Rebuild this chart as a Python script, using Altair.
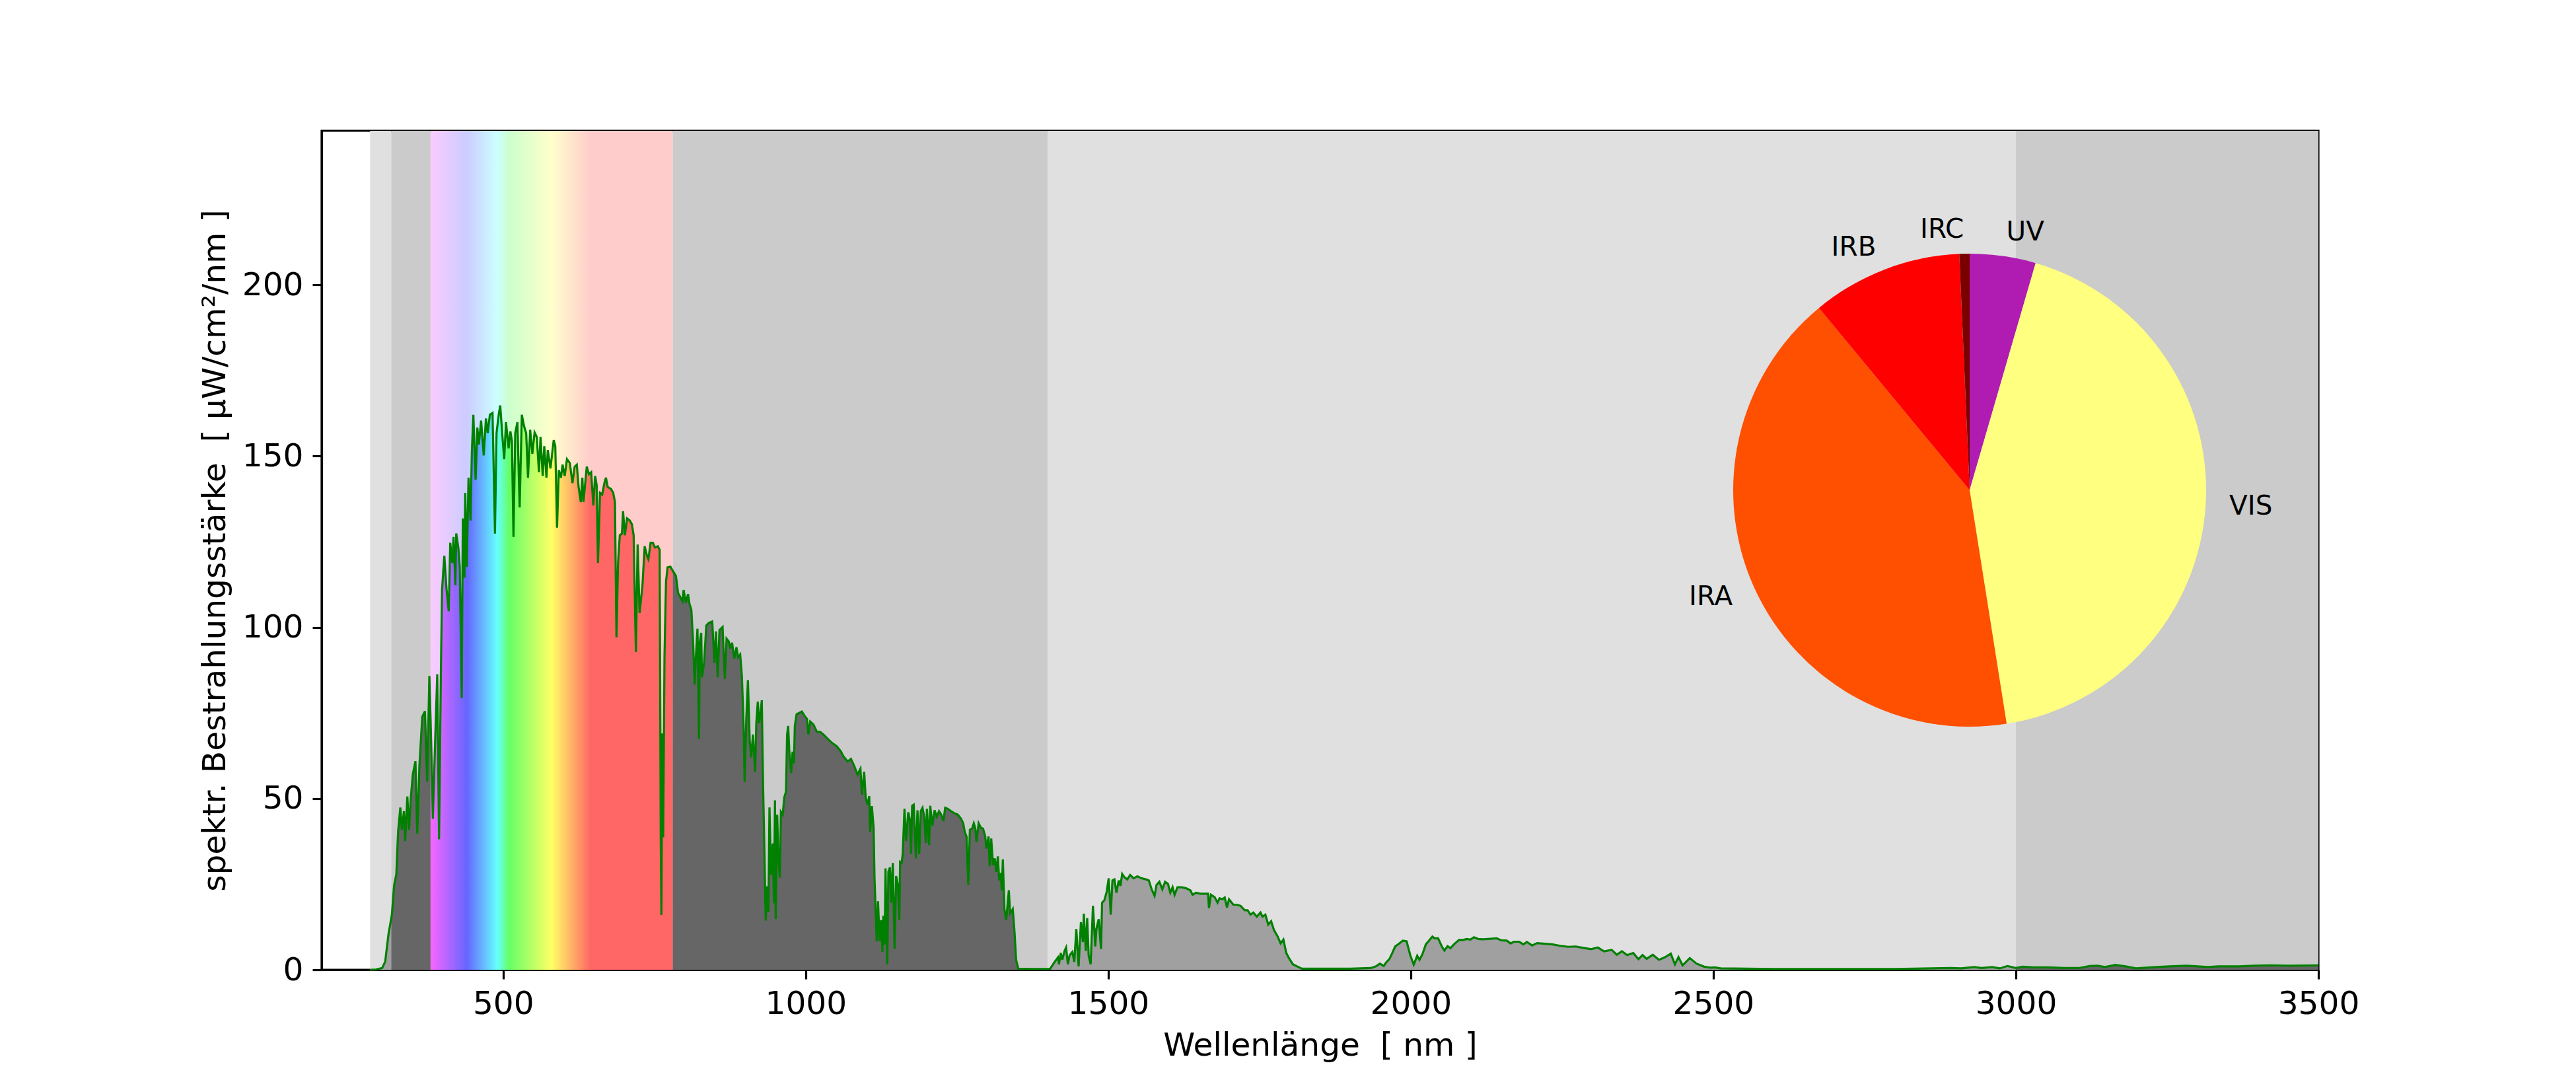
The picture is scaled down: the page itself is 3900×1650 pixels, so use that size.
import math
import altair as alt
import pandas as pd

# ---------------- data ----------------
WAVELENGTH = [
    280, 290, 300, 305, 310.6, 315, 316, 319.7, 323.4, 326.3, 330, 332.5, 336, 338, 341.6, 344.5, 347,
    350.7, 355, 358, 361.6, 366.3, 370.7, 374.3, 378, 380, 381, 383.8, 387, 391, 394, 397, 399, 402.7,
    406.3, 410, 412.5, 416, 418, 421, 422.4, 426, 428.2, 431.5, 433.3, 436, 437.3, 439.8, 442.7, 446,
    448.2, 450.7, 454.4, 457.3, 459.8, 463.5, 467.8, 471.5, 474.4, 478, 482.4, 486.4, 489, 492.6, 495.1,
    498.8, 501.7, 504.6, 509, 511.9, 514.4, 517, 519.9, 523.5, 527.2, 530.8, 534.4, 538, 541, 544.6,
    548.2, 551.9, 555.5, 559.1, 561.7, 565.3, 567.9, 571.5, 573.7, 578.1, 583.5, 586.1, 589, 591.9,
    595.5, 598.1, 601.7, 605.4, 610.1, 614.5, 618.1, 621.7, 624.6, 628.3, 630.8, 632.7, 638.1, 641.7,
    645.4, 649, 651.9, 654.5, 656.7, 660, 663.6, 667.2, 669.8, 672.7, 678.1, 681.8, 684.7, 687.2,
    689.8, 692.7, 696.3, 698.1, 701.1, 704.7, 709.1, 712.7, 715.6, 719.3, 722.2, 725.4, 728, 730.2,
    733.8, 737.5, 740, 743.6, 747.3, 750.9, 755.6, 758.6, 760.4, 761.5, 762.9, 764.4, 766.6, 769.1,
    771.7, 776.4, 780, 785.5, 789.1, 792.8, 796.4, 798.2, 801.9, 805.5, 808, 811, 813.9, 816.4, 818.2,
    821.1, 823.7, 824.8, 827.3, 828.4, 832, 835.7, 840, 845.5, 849.2, 851.7, 854.6, 857.5, 862.6,
    866.3, 869.2, 872.8, 875.7, 878.3, 881.9, 885.5, 888.1, 891.7, 894.6, 897.5, 899, 901.9, 904.5,
    907.4, 909.9, 912.8, 916.5, 918.3, 920.8, 923, 925.6, 927.4, 929.2, 931, 933.9, 936.5, 938.3,
    940.1, 942.7, 945.6, 947.4, 949.2, 950.3, 952.9, 954.7, 957.2, 959, 962, 964.5, 967.4, 969.2, 971,
    972.9, 975.8, 978.3, 980.5, 982, 984.9, 989.2, 993.6, 998.3, 1002, 1004.5, 1007.4, 1012.9, 1018.4,
    1023.8, 1029.3, 1036.6, 1043.8, 1051.1, 1058.4, 1062, 1069.3, 1074.8, 1080.2, 1085.7, 1090.4,
    1092.9, 1096.6, 1099.1, 1102.1, 1105, 1106.4, 1109.3, 1112.2, 1113.7, 1117.3, 1119.5, 1122.1,
    1124.6, 1126.8, 1128.3, 1130.4, 1131.9, 1134.8, 1136.6, 1139.2, 1141.4, 1143.9, 1146.8, 1149.4,
    1152.3, 1154.8, 1155.9, 1158.5, 1160.3, 1163.2, 1165.7, 1169.4, 1171.9, 1174.1, 1175.9, 1178.5,
    1180.3, 1182.1, 1184.7, 1187.6, 1190.1, 1193, 1195.9, 1198.5, 1200.3, 1203.9, 1205.8, 1209.4,
    1213, 1216.7, 1220.3, 1224, 1227.6, 1230.5, 1234.9, 1240.3, 1245.8, 1251.2, 1256.7, 1260.3,
    1262.9, 1265.8, 1268.7, 1271.3, 1274.9, 1277.8, 1280.4, 1282.2, 1285.8, 1289.5, 1293.1, 1296.7,
    1298.5, 1302.2, 1304, 1306.6, 1309.5, 1312.4, 1314.9, 1317.5, 1319.7, 1322.2, 1324, 1325.8,
    1328.4, 1331.3, 1333.1, 1335.7, 1337.8, 1342.2, 1345.1, 1347.7, 1351.3, 1375, 1400, 1404, 1411.4,
    1416.8, 1418.6, 1421.5, 1424.1, 1427.7, 1430.3, 1433.2, 1436.1, 1440.6, 1443.9, 1447.2, 1451,
    1454.8, 1458.1, 1459.6, 1462.9, 1465.2, 1467.6, 1470.9, 1474.7, 1478.5, 1480.4, 1484.2, 1488,
    1489.8, 1493.6, 1497.4, 1500.7, 1504.1, 1506.9, 1510.2, 1513.5, 1517.3, 1520.1, 1523, 1526.8,
    1531.5, 1536.2, 1541.9, 1548.1, 1555.2, 1562.3, 1567, 1571.7, 1576.5, 1579.8, 1584.5, 1589.3,
    1594, 1598.7, 1602.5, 1606.3, 1609.6, 1614.4, 1621.5, 1628.6, 1635.7, 1639.4, 1645.1, 1652.2,
    1659.3, 1665, 1666.4, 1669.7, 1675.9, 1680.6, 1683.9, 1688.7, 1692.5, 1696.2, 1699.6, 1706.7,
    1712.3, 1718.5, 1725.6, 1730.3, 1735.1, 1739.8, 1745.5, 1751.6, 1754.9, 1759.7, 1764.4, 1769.2,
    1773.9, 1780, 1784.8, 1789.5, 1794.2, 1799, 1805.1, 1813.2, 1820.3, 1900, 1933.9, 1942.4, 1949,
    1955.2, 1960, 1964.6, 1969.4, 1974.1, 1981.2, 1986.9, 1993.1, 1999.2, 2004.9, 2010.6, 2014.4,
    2019.1, 2024.8, 2030.9, 2035.7, 2039, 2045.1, 2051.3, 2055.6, 2060.8, 2065.5, 2071.2, 2079.7,
    2086.3, 2092.5, 2098.6, 2104.3, 2111.4, 2118.5, 2128, 2142.2, 2149.3, 2158.7, 2164.9, 2170.6,
    2179.1, 2185.9, 2191.9, 2200.4, 2208.9, 2221.6, 2234.3, 2247.1, 2259.8, 2272.6, 2285.3, 2298,
    2309.1, 2319.3, 2332, 2340.5, 2349, 2357.5, 2367.7, 2376.2, 2383, 2389.8, 2400, 2410.2, 2419.5,
    2429.7, 2436.5, 2442.4, 2449.2, 2461.1, 2472.2, 2484.9, 2495.1, 2501.9, 2512.1, 2600, 2700, 2800,
    2892.6, 2909.6, 2930.8, 2943.6, 2960.6, 2973.3, 2986, 3000, 3011.5, 3028.5, 3054, 3079.5, 3105,
    3122, 3134.7, 3147.4, 3164.4, 3181.4, 3198.4, 3232.4, 3253.6, 3283.3, 3317.3, 3334.3, 3368.3,
    3393.8, 3419.3, 3453.2, 3500,
]
IRRADIANCE = [
    0.0, 0.1, 0.5, 2.4, 10.6, 15.0, 16.0, 24.6, 27.9, 40.3, 47.4, 40.9, 46.3, 37.6, 50.6, 40.9, 49.5,
    57.1, 60.9, 39.8, 59.8, 73.9, 75.5, 55.0, 85.8, 73.0, 66.3, 44.1, 63.6, 86.3, 38.1, 86.3, 111.2, 120.9,
    111.2, 104.7, 124.7, 118.8, 126.4, 112.3, 127.4, 123.1, 117.7, 79.3, 131.8, 114.5, 139.3, 117.7, 143.7, 131.2,
    151.3, 162.1, 143.1, 158.3, 153.4, 160.4, 150.2, 161.0, 156.7, 162.1, 162.6, 127.4, 156.7, 162.1, 164.8,
    155.6, 149.1, 159.9, 152.3, 157.2, 154.5, 126.4, 156.7, 159.9, 135.0, 162.1, 158.8, 156.7, 143.7, 157.7,
    150.7, 156.9, 155.6, 145.3, 155.6, 144.2, 152.9, 143.7, 151.8, 146.4, 154.7, 152.9, 129.1, 145.9,
    143.7, 147.5, 144.2, 149.1, 148.0, 142.1, 146.9, 147.5, 141.0, 136.6, 143.7, 136.6, 146.9, 144.7,
    145.3, 135.6, 144.2, 141.5, 118.8, 139.3, 138.8, 142.1, 143.7, 141.0, 140.4, 139.3, 136.6, 97.1,
    118.8, 126.9, 127.4, 133.9, 126.9, 131.8, 131.2, 130.1, 126.9, 92.8, 124.2, 104.2, 108.5, 112.3,
    123.7, 121.0, 119.9, 124.7, 124.7, 123.3, 123.7, 122.6, 37.6, 16.0, 69.0, 38.7, 91.7, 113.4,
    117.5, 117.7, 116.6, 115.0, 110.0, 108.8, 107.6, 110.9, 107.2, 109.7, 106.8, 105.1, 95.5, 83.3, 90.5,
    99.6, 67.4, 95.5, 98.4, 85.4, 89.6, 100.5, 101.3, 101.7, 89.6, 98.8, 85.4, 99.2, 100.1,
    85.0, 96.7, 95.9, 93.8, 95.5, 90.9, 94.2, 91.3, 92.1, 85.4, 70.4, 54.9, 73.7, 84.6,
    67.0, 62.0, 68.7, 57.8, 72.0, 78.3, 72.0, 75.4, 78.7, 57.0, 41.1, 14.4, 24.4, 16.9,
    47.4, 27.7, 36.9, 19.4, 49.5, 14.8, 45.3, 32.8, 26.9, 46.1, 45.3, 50.3, 52.0, 68.7, 71.2,
    63.7, 57.4, 63.7, 60.3, 71.2, 74.6, 75.0, 75.4, 74.1, 73.3, 68.7, 72.5, 71.6, 69.5,
    69.5, 68.7, 67.4, 66.2, 65.3, 63.7, 62.4, 60.8, 61.6, 59.5, 57.0, 58.7,
    51.1, 57.8, 50.3, 48.2, 50.7, 40.3, 47.8, 41.5, 26.7, 8.3, 20.0, 8.4,
    14.5, 5.2, 15.8, 7.4, 29.6, 1.6, 28.6, 29.9, 19.6, 31.2, 6.1, 27.4,
    24.8, 14.5, 31.5, 31.2, 33.8, 47.0, 37.6, 46.0, 44.1, 33.8, 47.9, 48.2,
    40.9, 32.5, 46.6, 33.8, 46.3, 47.3, 44.7, 37.0, 47.0, 36.4, 47.9, 42.1,
    46.6, 44.7, 46.3, 45.3, 43.4, 47.3, 47.0, 46.3, 45.7, 45.3, 44.1, 42.8,
    40.2, 38.9, 24.8, 40.9, 41.2, 42.8, 41.2, 37.3, 42.8, 41.5, 41.2, 38.9,
    35.4, 38.9, 30.2, 38.3, 30.6, 32.5, 28.6, 33.1, 26.1, 28.3, 23.2, 32.2,
    17.7, 14.5, 18.0, 23.2, 16.4, 17.7, 11.0, 2.9, 0.3, 0.2, 0.2, 0.3, 2.3,
    3.6, 1.6, 4.9, 2.9, 5.5, 6.5, 1.6, 4.2, 5.2, 2.3, 11.9, 1.0,
    13.9, 8.1, 16.4, 5.5, 15.1, 4.2, 1.6, 18.7, 6.8, 11.9, 14.8, 6.1,
    19.6, 20.3, 22.8, 26.7, 16.1, 26.1, 26.4, 22.5, 26.1, 24.5, 28.0, 27.0,
    26.4, 27.7, 26.7, 27.3, 26.7, 26.4, 26.1, 23.5, 21.6, 24.8, 25.7, 23.5,
    25.7, 25.1, 22.5, 24.1, 21.9, 24.1, 24.1, 23.8, 23.2, 21.9, 22.5, 22.2,
    22.2, 22.2, 18.0, 21.9, 21.2, 19.6, 20.9, 20.6, 21.1, 18.2, 20.6, 19.0,
    19.0, 18.7, 17.4, 17.4, 16.1, 16.7, 15.5, 16.7, 15.5, 16.1, 13.2, 14.2,
    11.6, 9.7, 7.7, 8.8, 4.9, 3.3, 1.6, 0.9, 0.3, 0.3, 0.5, 1.0, 1.8,
    1.1, 2.3, 3.1, 4.9, 6.8, 7.7, 8.5, 8.3, 4.2, 1.5, 4.1, 2.9,
    4.5, 7.4, 8.7, 9.7, 9.2, 9.2, 6.8, 5.6, 6.9, 6.3, 7.4, 8.7,
    8.7, 9.0, 8.8, 9.5, 9.0, 8.9, 9.0, 9.2, 8.6, 8.5, 7.7, 8.2,
    8.2, 7.4, 8.1, 7.1, 7.8, 7.6, 7.4, 7.0, 6.7, 6.8, 6.4, 6.0,
    6.5, 5.4, 5.8, 4.4, 5.4, 4.3, 4.9, 3.1, 4.3, 3.2, 4.4, 2.9, 3.6,
    4.7, 1.6, 3.7, 1.3, 3.4, 1.8, 0.9, 0.6, 0.7, 0.4, 0.2, 0.2, 0.2,
    0.5, 0.4, 0.8, 0.5, 0.8, 0.4, 1.1, 0.5, 0.9, 0.7, 0.7, 0.5, 0.5,
    1.1, 1.2, 0.8, 1.4, 1.0, 0.4, 0.8, 1.0, 1.2, 0.8, 1.0, 1.0,
    1.2, 1.3, 1.2, 1.3,
]

# spectral bands (background shade, fill under curve)
BAND_START = [280, 315, 380, 780, 1400, 3000]
BAND_END = [315, 380, 780, 1400, 3000, 3500]
BAND_BG = ["#e0e0e0", "#cbcbcb", "rainbow", "#cbcbcb", "#e0e0e0", "#cbcbcb"]
BAND_FILL = ["#a0a0a0", "#666666", "rainbow", "#666666", "#a0a0a0", "#666666"]

# visible-spectrum colour stops
VIS_WL = [380, 440, 490, 510, 580, 645, 780]
VIS_STRONG = ["#f866ff", "#6666ff", "#66ffff", "#66ff66", "#ffff66", "#ff6666", "#ff6666"]
VIS_PALE = ["#facbff", "#ccccff", "#ccffff", "#ccffcc", "#ffffcc", "#ffcccc", "#ffcccc"]

# pie (share of irradiance)
PIE_LABELS = ["UV", "VIS", "IRA", "IRB", "IRC"]
PIE_VALUES = [4.5, 43.0, 41.5, 10.3, 0.7]
PIE_COLORS = ["#b01cb2", "#ffff80", "#ff4f00", "#ff0000", "#7a0000"]

X_DOMAIN = [200, 3500]
Y_DOMAIN = [0, 245]
X_TICKS = [500, 1000, 1500, 2000, 2500, 3000, 3500]
Y_TICKS = [0, 50, 100, 150, 200]

X_TITLE = "Wellenlänge \u00a0[ nm ]"
Y_TITLE = "spektr. Bestrahlungsstärke \u00a0[ µW/cm²/nm ]"

# ---------------- layout / style ----------------
W, H = 3023, 1270
FONT = "DejaVu Sans"
FS = 48.6
PIE_FS = 40.5
PIE_CX, PIE_CY, PIE_R = 2495, 544, 358
LINE_W = 3.2

spec = pd.DataFrame({"wl": WAVELENGTH, "irr": IRRADIANCE})
bands = pd.DataFrame({"start": BAND_START, "end": BAND_END, "bg": BAND_BG, "fill": BAND_FILL})

gray_bands = bands[bands["bg"] != "rainbow"]
vis_band = bands[bands["bg"] == "rainbow"]
vis_lo = float(vis_band["start"].iloc[0])
vis_hi = float(vis_band["end"].iloc[0])

parts = []
for i, row in bands.iterrows():
    if row["fill"] == "rainbow":
        continue
    sub = spec[(spec["wl"] >= row["start"]) & (spec["wl"] <= row["end"])].copy()
    sub["band"] = i
    sub["fill"] = row["fill"]
    parts.append(sub)
fill_df = pd.concat(parts, ignore_index=True)
vis_df = spec[(spec["wl"] >= vis_lo) & (spec["wl"] <= vis_hi)]


def gradient(colors):
    return {
        "gradient": "linear",
        "x1": 0, "x2": 1, "y1": 0, "y2": 0,
        "stops": [{"offset": (w - vis_lo) / (vis_hi - vis_lo), "color": c}
                  for w, c in zip(VIS_WL, colors)],
    }


xscale = alt.Scale(domain=X_DOMAIN, nice=False, zero=False)
yscale = alt.Scale(domain=Y_DOMAIN, nice=False, zero=False)
xaxis = alt.Axis(values=X_TICKS, title=X_TITLE, format="d")
yaxis = alt.Axis(values=Y_TICKS, title=Y_TITLE, format="d")

bg = alt.Chart(gray_bands).mark_rect().encode(
    x=alt.X("start:Q", scale=xscale, axis=xaxis),
    x2="end:Q",
    color=alt.Color("bg:N", scale=None),
)
bg_vis = alt.Chart(vis_band).mark_rect(color=gradient(VIS_PALE)).encode(
    x=alt.X("start:Q", scale=xscale, axis=xaxis),
    x2="end:Q",
)
fills = alt.Chart(fill_df).mark_area(opacity=1).encode(
    x=alt.X("wl:Q", scale=xscale, axis=xaxis),
    y=alt.Y("irr:Q", scale=yscale, axis=yaxis, stack=None),
    color=alt.Color("fill:N", scale=None),
    detail="band:N",
)
fill_vis = alt.Chart(vis_df).mark_area(color=gradient(VIS_STRONG), opacity=1).encode(
    x=alt.X("wl:Q", scale=xscale, axis=xaxis),
    y=alt.Y("irr:Q", scale=yscale, axis=yaxis),
)
line = alt.Chart(spec).mark_line(color="#008000", strokeWidth=LINE_W).encode(
    x=alt.X("wl:Q", scale=xscale, axis=xaxis),
    y=alt.Y("irr:Q", scale=yscale, axis=yaxis),
)

pie_df = pd.DataFrame({"label": PIE_LABELS, "value": PIE_VALUES,
                       "color": PIE_COLORS, "order": list(range(len(PIE_LABELS)))})
total = float(sum(PIE_VALUES))
theta_scale = alt.Scale(domain=[0, total], range=[0, 2 * math.pi])

pie = alt.Chart(pie_df).mark_arc(outerRadius=PIE_R).encode(
    theta=alt.Theta("value:Q", stack=True, scale=theta_scale),
    color=alt.Color("color:N", scale=None),
    order=alt.Order("order:Q"),
    x=alt.value(PIE_CX),
    y=alt.value(PIE_CY),
)

label_base = alt.Chart(pie_df).transform_window(
    cum="sum(value)", sort=[alt.SortField("order")], frame=[None, 0]
).transform_calculate(
    mid="datum.cum - datum.value / 2",
    side=f"datum.cum - datum.value / 2 <= {total / 2} ? 'L' : 'R'",
)
labels_l = label_base.transform_filter("datum.side == 'L'").mark_text(
    radius=PIE_R * 1.1, align="left", baseline="middle", fontSize=PIE_FS, font=FONT, color="black"
).encode(
    theta=alt.Theta("mid:Q", scale=theta_scale),
    text="label:N",
    x=alt.value(PIE_CX),
    y=alt.value(PIE_CY),
)
labels_r = label_base.transform_filter("datum.side == 'R'").mark_text(
    radius=PIE_R * 1.1, align="right", baseline="middle", fontSize=PIE_FS, font=FONT, color="black"
).encode(
    theta=alt.Theta("mid:Q", scale=theta_scale),
    text="label:N",
    x=alt.value(PIE_CX),
    y=alt.value(PIE_CY),
)

chart = alt.layer(bg, bg_vis, fills, fill_vis, line, pie, labels_l, labels_r).resolve_scale(
    color="independent"
).properties(
    width=W, height=H,
    padding={"left": 479, "top": 190, "right": 380, "bottom": 170},
    autosize=alt.AutoSizeParams(type="none"),
).configure(font=FONT).configure_axis(
    labelFont=FONT, titleFont=FONT, labelFontSize=FS, titleFontSize=FS,
    titleFontWeight="normal", labelColor="black", titleColor="black",
    tickColor="black", domainColor="black", tickWidth=3.2, domainWidth=3.2,
    tickSize=14, labelPadding=14, titlePadding=16, grid=False, zindex=1,
    labelFlush=False, labelOverlap=False,
).configure_view(stroke="black", strokeWidth=3.2)

chart.save("out.html", embed_options={"renderer": "svg", "actions": False})
